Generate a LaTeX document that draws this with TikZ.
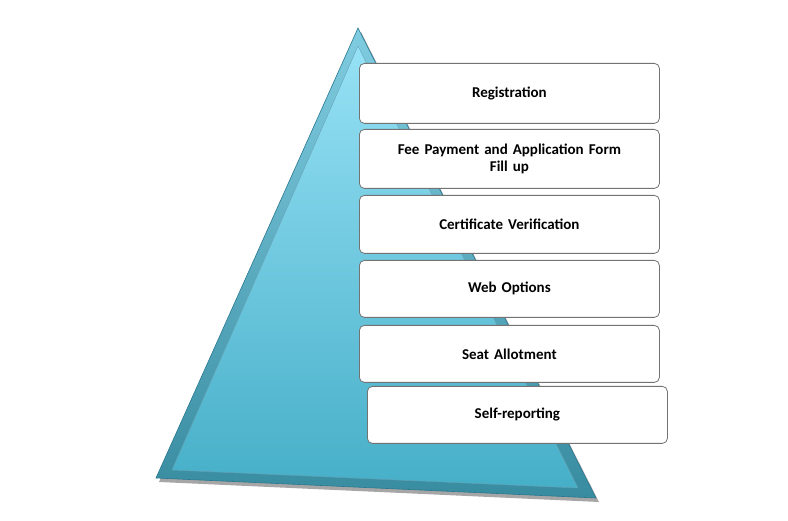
\documentclass[tikz,border=0pt]{standalone}
\usepackage{fontspec}
\setmainfont{Carlito}
\usetikzlibrary{calc}
\definecolor{tritop}{RGB}{150,225,245}
\definecolor{tribot}{RGB}{70,175,200}
\definecolor{triedge}{RGB}{40,120,145}
\begin{document}
\begin{tikzpicture}[x=1pt,y=-1pt,
  stepbox/.style={draw=black!55,line width=0.8pt,rounded corners=5pt,fill=white,
    minimum width=300pt,text width=285pt,align=center,font=\bfseries\fontsize{15}{17}\selectfont,anchor=north west}]
\useasboundingbox (0,0) rectangle (788,521);
\coordinate (apex) at (358,28);
\coordinate (bl) at (156,478);
\coordinate (br) at (596,498);
\fill[black!35] ($(apex)+(3,4)$) -- ($(bl)+(3,4)$) -- ($(br)+(3,4)$) -- cycle;
\path[draw=triedge,line width=0.6pt,top color=tritop!80!triedge,bottom color=tribot!80!black]
  (apex) -- (bl) -- (br) -- cycle;
\path[draw=triedge!70,line width=0.4pt,top color=tritop,bottom color=tribot]
  (358,46) -- (172,470) -- (578,488) -- cycle;
\node[stepbox,minimum height=60pt] (r1) at (359,63) {Registration};
\node[stepbox,minimum height=59pt] (r2) at (359,129) {Fee Payment and Application Form\\Fill up};
\node[stepbox,minimum height=58pt] (r3) at (359,195) {Certificate Verification};
\node[stepbox,minimum height=57pt] (r4) at (359,260) {Web Options};
\node[stepbox,minimum height=57pt] (r5) at (359,325) {Seat Allotment};
\node[stepbox,minimum height=57pt] (r6) at (367,386) {Self-reporting};
\end{tikzpicture}
\end{document}
